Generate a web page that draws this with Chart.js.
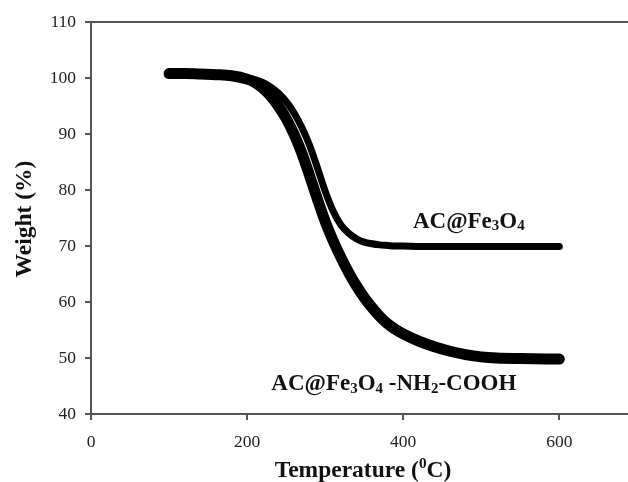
<!DOCTYPE html>
<html><head><meta charset="utf-8">
<script src="https://cdn.jsdelivr.net/npm/chart.js@4.4.0/dist/chart.umd.min.js"></script>
<style>html,body{margin:0;padding:0;background:#fff;overflow:hidden}</style>
</head><body>
<canvas id="c" width="628" height="482" style="display:block;width:628px;height:482px"></canvas>
<script>
// ---- data ----
const temperature = [100,120,140,160,180,200,210,220,230,240,250,260,270,280,290,300,310,320,330,340,350,360,370,380,390,400,420,440,460,480,500,520,550,600];
const weightACFe3O4 = [100.6,100.6,100.5,100.5,100.3,100.0,99.7,99.2,98.4,97.3,95.8,93.8,91.2,88.0,84.0,79.8,76.3,73.8,72.3,71.3,70.7,70.4,70.2,70.1,70.0,70.0,69.9,69.9,69.9,69.9,69.9,69.9,69.9,69.9];
const weightNH2COOH = [100.8,100.8,100.7,100.6,100.4,99.8,99.2,98.2,96.8,95.0,92.8,90.0,86.6,82.6,78.4,74.4,71.0,68.0,65.3,62.9,60.8,59.0,57.4,56.1,55.1,54.3,53.0,52.0,51.2,50.6,50.2,50.0,49.9,49.8];
const xTickValues = [0,200,400,600];
const yTickValues = [40,50,60,70,80,90,100,110];
const seriesNames = ['AC@Fe3O4', 'AC@Fe3O4 -NH2-COOH'];

const SERIF = '"Liberation Serif", "Times New Roman", serif';
const AXIS = '#555';

function pts(ys){ return temperature.map((t,i)=>({x:t,y:ys[i]})); }

function drawRich(ctx, segs, x, y, size, align){
  const widths = segs.map(s=>{
    const fs = s.sub||s.sup ? size*0.65 : size;
    ctx.font = 'bold ' + fs + 'px ' + SERIF;
    return ctx.measureText(s.t).width;
  });
  const total = widths.reduce((a,b)=>a+b,0);
  let cx = align==='center' ? x - total/2 : x;
  ctx.textBaseline = 'alphabetic';
  ctx.textAlign = 'left';
  segs.forEach((s,i)=>{
    const fs = s.sub||s.sup ? size*0.65 : size;
    ctx.font = 'bold ' + fs + 'px ' + SERIF;
    let dy = 0;
    if (s.sub) dy = size*0.12;
    if (s.sup) dy = -size*0.38;
    ctx.fillText(s.t, cx, y+dy);
    cx += widths[i];
  });
}

const textPlugin = {
  id:'textPlugin',
  afterDraw(chart, args, opts){
    const ctx = chart.ctx, xs = chart.scales.x, ys = chart.scales.y;
    ctx.save();
    ctx.fillStyle = '#111';
    opts.labels.forEach(l=>{
      drawRich(ctx, l.segs, xs.getPixelForValue(l.t), ys.getPixelForValue(l.w), 23, 'center');
    });
    drawRich(ctx, opts.xTitle, 363, 477, 23.5, 'center');
    ctx.save();
    ctx.translate(31, 219);
    ctx.rotate(-Math.PI/2);
    drawRich(ctx, opts.yTitle, 0, 0, 23.5, 'center');
    ctx.restore();
    ctx.restore();
  }
};

new Chart(document.getElementById('c'), {
  type:'line',
  data:{
    datasets:[
      {label:seriesNames[0], data:pts(weightACFe3O4), borderColor:'#000', borderWidth:7,
       pointRadius:0, cubicInterpolationMode:'monotone', borderCapStyle:'round', borderJoinStyle:'round', fill:false},
      {label:seriesNames[1], data:pts(weightNH2COOH), borderColor:'#000', borderWidth:11,
       pointRadius:0, cubicInterpolationMode:'monotone', borderCapStyle:'round', borderJoinStyle:'round', fill:false}
    ]
  },
  options:{
    responsive:false, animation:false, devicePixelRatio:1,
    layout:{padding:{top:22,right:0,bottom:0,left:0}},
    plugins:{
      legend:{display:false}, tooltip:{enabled:false},
      textPlugin:{
        labels:[
          {segs:[{t:'AC@Fe'},{t:'3',sub:true},{t:'O'},{t:'4',sub:true}], t:484, w:73.3},
          {segs:[{t:'AC@Fe'},{t:'3',sub:true},{t:'O'},{t:'4',sub:true},{t:' -NH'},{t:'2',sub:true},{t:'-COOH'}], t:388, w:44.2}
        ],
        xTitle:[{t:'Temperature ('},{t:'0',sup:true},{t:'C)'}],
        yTitle:[{t:'Weight (%)'}]
      }
    },
    scales:{
      x:{type:'linear', position:'bottom', min:0, max:688,
         afterBuildTicks:s=>{ s.ticks = xTickValues.map(v=>({value:v})); },
         afterFit:s=>{ s.height = 68; },
         grid:{drawOnChartArea:false, drawTicks:true, tickLength:6, color:AXIS, lineWidth:2},
         border:{display:true, color:AXIS, width:2},
         ticks:{padding:12, color:'#222', font:{family:SERIF, size:17.5}}},
      xTop:{type:'linear', position:'top', min:0, max:688,
         afterFit:s=>{ s.height = 0; },
         grid:{display:false}, ticks:{display:false},
         border:{display:true, color:AXIS, width:2}},
      y:{type:'linear', min:40, max:110,
         afterBuildTicks:s=>{ s.ticks = yTickValues.map(v=>({value:v})); },
         afterFit:s=>{ s.width = 91; },
         grid:{drawOnChartArea:false, drawTicks:true, tickLength:6, color:AXIS, lineWidth:2},
         border:{display:true, color:AXIS, width:2},
         ticks:{padding:9, color:'#222', font:{family:SERIF, size:17.5}}}
    }
  },
  plugins:[textPlugin]
});
</script>
</body></html>
